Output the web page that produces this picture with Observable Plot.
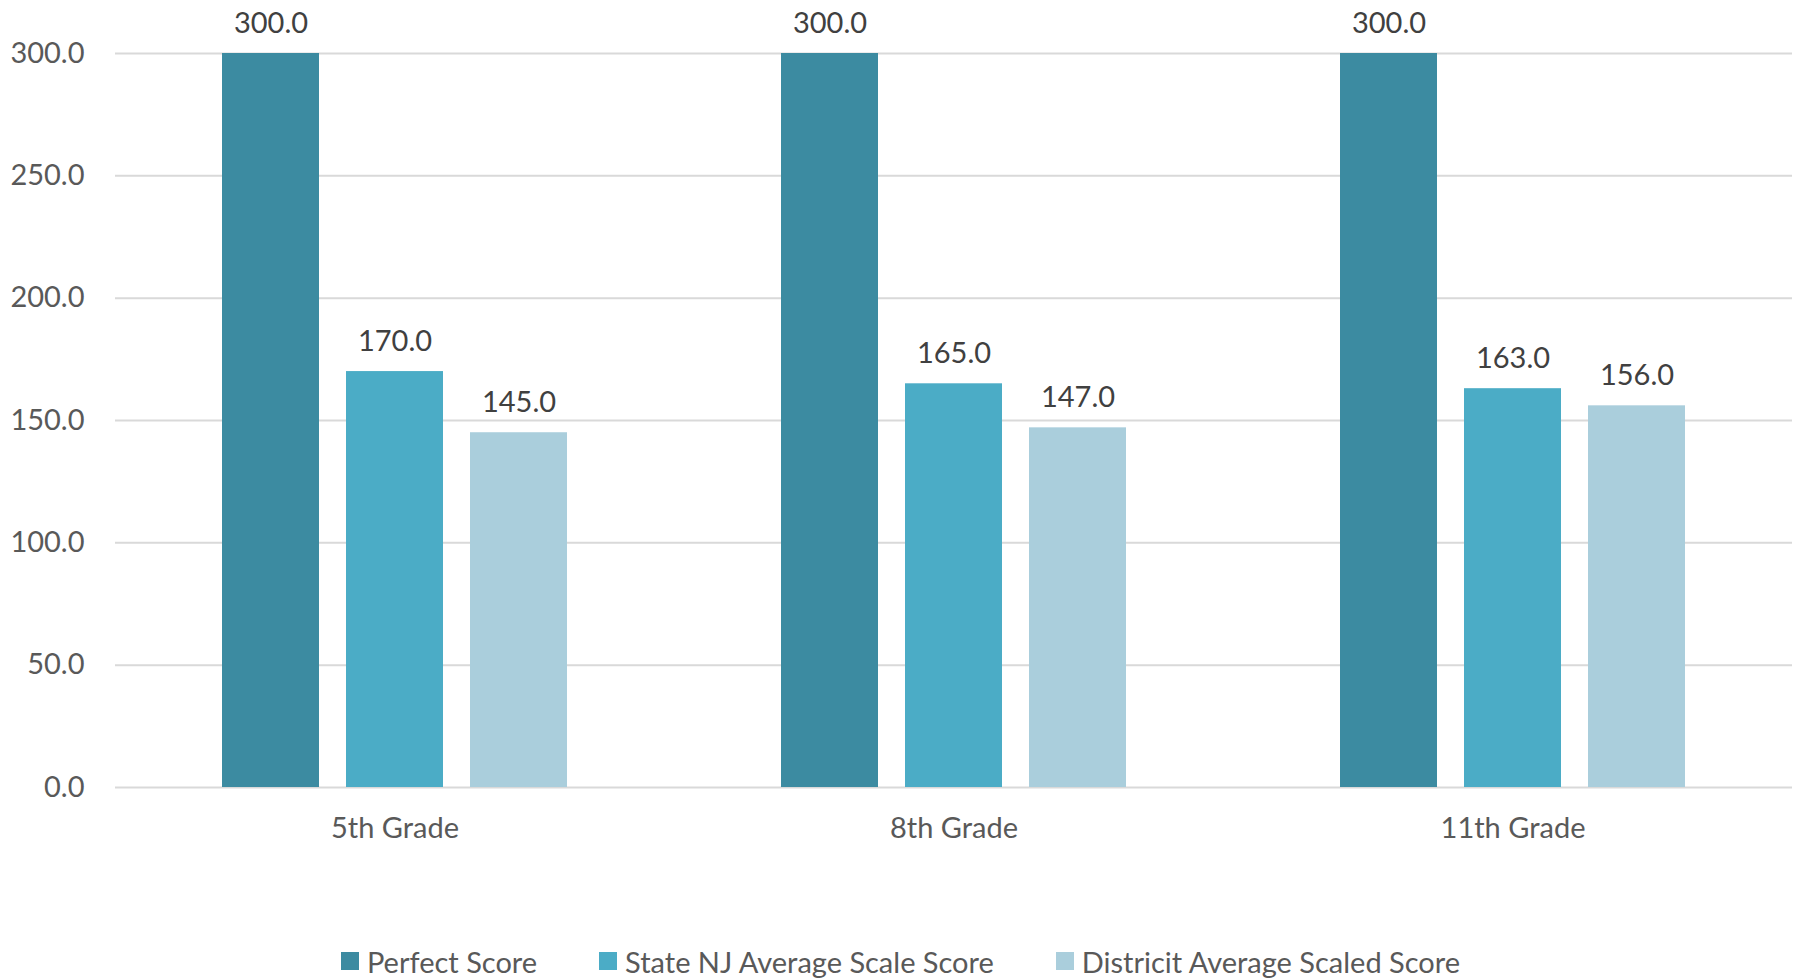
<!DOCTYPE html>
<html>
<head>
<meta charset="utf-8">
<script src="https://cdn.jsdelivr.net/npm/d3@7"></script>
<script src="https://cdn.jsdelivr.net/npm/@observablehq/plot@0.6"></script>
<style>
  html, body { margin: 0; padding: 0; background: #fff; }
  body { width: 1801px; font-family: Lato, "Open Sans", sans-serif; overflow: hidden; }
  #chart { position: relative; width: 1801px; height: 880px; }
  #legend { display: flex; justify-content: center; align-items: center; margin-top: 64px; height: 34px; font-size: 29px; color: #595959; }
  .item { display: flex; align-items: center; margin: 0 31px; }
  .sw { width: 18px; height: 18px; margin-right: 8px; }
</style>
</head>
<body>
<div id="chart"></div>
<div id="legend"></div>
<script>
const grades = ["5th Grade", "8th Grade", "11th Grade"];
const series = ["Perfect Score", "State NJ Average Scale Score", "Districit Average Scaled Score"];
const perfectScore = [300, 300, 300];
const stateScore = [170, 165, 163];
const districtScore = [145, 147, 156];
const yTicks = [0, 50, 100, 150, 200, 250, 300];
const colors = ["#3C8BA1", "#4BACC6", "#AACEDC"];

const values = [perfectScore, stateScore, districtScore];
const data = [];
grades.forEach((g, gi) => series.forEach((s, si) => data.push({grade: g, series: s, value: values[si][gi]})));

const fmt = d3.format(".1f");
const font = "Lato, 'Open Sans', sans-serif";

const chart = Plot.plot({
  width: 1801,
  height: 880,
  marginTop: 53,
  marginBottom: 93,
  marginLeft: 114,
  marginRight: 9,
  style: {fontFamily: font, fontSize: "29px", background: "#fff"},
  facet: {data, x: "grade"},
  fx: {domain: grades, padding: 0, label: null, axis: "bottom", tickSize: 0, tickPadding: 30},
  x: {domain: series, paddingInner: 0.218, paddingOuter: 0.863, axis: null},
  y: {domain: [0, 300], axis: null},
  color: {domain: series, range: colors},
  marks: [
    Plot.ruleY(yTicks, {stroke: "#D9D9D9", strokeWidth: 2}),
    Plot.barY(data, {x: "series", y: "value", fill: "series"}),
    Plot.text(data, {x: "series", y: "value", text: d => fmt(d.value), lineAnchor: "bottom", dy: -21, fill: "#404040", fontSize: 29})
  ]
});
chart.style.position = "absolute";
chart.style.left = "0px";
chart.style.top = "0px";
chart.querySelectorAll("g[aria-label='fx-axis tick label'] text, g[aria-label='fx-axis'] text").forEach(t => t.setAttribute("fill", "#595959"));
document.getElementById("chart").appendChild(chart);

// y axis (non-faceted overlay sharing the same y scale)
const axisPlot = Plot.plot({
  width: 1801, height: 880, marginTop: 53, marginBottom: 93, marginLeft: 114, marginRight: 9,
  style: {fontFamily: font, fontSize: "29px", background: "transparent"},
  y: {domain: [0, 300], ticks: yTicks, tickFormat: fmt, tickSize: 0, tickPadding: 30, label: null},
  x: {axis: null},
  marks: []
});
axisPlot.style.position = "absolute";
axisPlot.style.left = "0px";
axisPlot.style.top = "0px";
axisPlot.querySelectorAll("text").forEach(t => t.setAttribute("fill", "#595959"));
document.getElementById("chart").appendChild(axisPlot);

const legend = document.getElementById("legend");
series.forEach((s, i) => {
  const item = document.createElement("div");
  item.className = "item";
  const sw = document.createElement("div");
  sw.className = "sw";
  sw.style.background = colors[i];
  const lab = document.createElement("span");
  lab.textContent = s;
  item.appendChild(sw);
  item.appendChild(lab);
  legend.appendChild(item);
});
</script>
</body>
</html>
